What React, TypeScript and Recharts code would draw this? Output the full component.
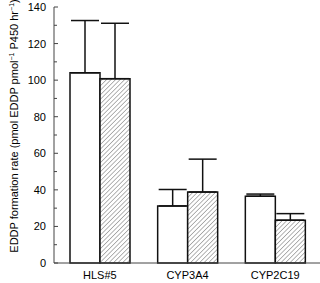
import { useEffect } from "react";
import { BarChart, Bar, XAxis, YAxis, ErrorBar, Label } from "recharts";

const categories = ["HLS#5", "CYP3A4", "CYP2C19"];
const openValues = [104, 31.2, 36.5];
const openErrors = [28.6, 9, 1.2];
const hatchValues = [100.8, 38.8, 23.4];
const hatchErrors = [30.3, 18, 3.6];
const yTicks = [0, 10, 20, 30, 40, 50, 60, 70, 80, 90, 100, 110, 120, 130, 140];

const data = categories.map((name, i) => ({
    name,
    open: openValues[i],
    openErr: [0, openErrors[i]],
    hatch: hatchValues[i],
    hatchErr: [0, hatchErrors[i]],
}));

const FONT = "'Liberation Sans', Arial, sans-serif";
const AXIS_X = 54;

function YTick(props: any) {
    const { y, payload } = props;
    const major = payload.value % 20 === 0;
    return (
        <g>
            <line x1={AXIS_X} x2={AXIS_X + (major ? 4 : 3)} y1={y} y2={y} stroke="#444" strokeWidth={1} />
            {major && (
                <text x={AXIS_X - 8} y={y} dy={4} textAnchor="end" fontSize={11} fontFamily={FONT} fill="#000">
                    {payload.value}
                </text>
            )}
        </g>
    );
}

function YLabel() {
    return (
        <text
            transform="translate(18,126) rotate(-90)"
            textAnchor="middle"
            fontSize={11}
            fontFamily={FONT}
            fill="#000"
        >
            EDDP formation rate (pmol EDDP pmol
            <tspan fontSize={7} dy={-4}>−1</tspan>
            <tspan dy={4}> P450 hr</tspan>
            <tspan fontSize={7} dy={-4}>−1</tspan>
            <tspan dy={4}>)</tspan>
        </text>
    );
}

export default function App() {
    useEffect(() => {
        document.body.style.margin = "0";
    }, []);

    return (
        <div style={{ width: 320, height: 283, background: "#fff" }}>
            <BarChart
                width={320}
                height={283}
                data={data}
                margin={{ top: 7, right: 0, left: 0, bottom: 0 }}
                barGap={0}
                barSize={30}
            >
                <defs>
                    <pattern id="hatch" width={3.2} height={3.2} patternUnits="userSpaceOnUse" patternTransform="rotate(45)">
                        <rect width={3.2} height={3.2} fill="#fff" />
                        <line x1={0} y1={0} x2={0} y2={3.2} stroke="#777" strokeWidth={1.1} />
                    </pattern>
                </defs>
                <XAxis
                    dataKey="name"
                    height={20}
                    tickLine={false}
                    axisLine={{ stroke: "#444", strokeWidth: 1 }}
                    padding={{ left: 2, right: 1 }}
                    tick={{ fontSize: 11, fill: "#000", fontFamily: FONT }}
                    tickMargin={2}
                />
                <YAxis
                    width={AXIS_X}
                    domain={[0, 140]}
                    ticks={yTicks}
                    interval={0}
                    tickLine={false}
                    axisLine={{ stroke: "#444", strokeWidth: 1 }}
                    tick={<YTick />}
                >
                    <Label content={<YLabel />} />
                </YAxis>
                <Bar dataKey="open" fill="#fff" stroke="#111" strokeWidth={1.5} isAnimationActive={false}>
                    <ErrorBar dataKey="openErr" width={14} stroke="#111" strokeWidth={1.5} direction="y" />
                </Bar>
                <Bar dataKey="hatch" fill="url(#hatch)" stroke="#111" strokeWidth={1.5} isAnimationActive={false}>
                    <ErrorBar dataKey="hatchErr" width={14} stroke="#111" strokeWidth={1.5} direction="y" />
                </Bar>
            </BarChart>
        </div>
    );
}
